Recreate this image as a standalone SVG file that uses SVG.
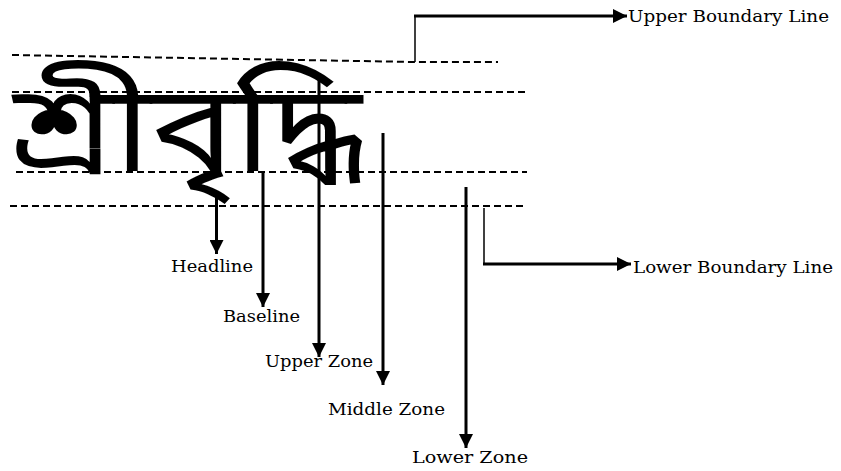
<svg xmlns="http://www.w3.org/2000/svg" width="841" height="471" viewBox="0 0 841 471">
<defs>
<marker id="ah" markerUnits="userSpaceOnUse" markerWidth="14" markerHeight="14" viewBox="0 0 12 12" refX="12" refY="6" orient="auto">
<path d="M0,0 L12,6 L0,12 Z" fill="#000"/>
</marker>
</defs>
<style>
.dash{fill:none;stroke:#000;stroke-width:2;stroke-dasharray:7 4}
.arr{fill:none;stroke:#000;stroke-width:3;marker-end:url(#ah)}
.thin{fill:none;stroke:#000;stroke-width:1.5}
.lbl{font-family:"DejaVu Serif","Liberation Serif",serif;font-size:16px;fill:#000}
.bn{font-family:"Noto Sans Bengali","Lohit Bengali","Noto Sans","DejaVu Sans",sans-serif;font-size:122px;font-weight:normal;fill:#000}
</style>
<rect width="841" height="471" fill="#fff"/>
<g id="word">
<text class="bn" x="12" y="171" textLength="350" lengthAdjust="spacingAndGlyphs">শ্রীবৃদ্ধি</text>
</g>
<g id="guides">
<polyline class="dash" points="12,55 415,62 498,62"/>
<line class="dash" x1="12" y1="92" x2="527" y2="92"/>
<line class="dash" x1="16" y1="172" x2="527" y2="172"/>
<line class="dash" x1="10" y1="206" x2="527" y2="206"/>
</g>
<g id="connectors">
<polyline class="thin" points="415,62 415,16"/>
<line class="arr" x1="414" y1="16" x2="627" y2="16"/>
<polyline class="thin" points="484,208 484,264"/>
<line class="arr" x1="483" y1="264" x2="631" y2="264"/>
<line class="arr" x1="216.5" y1="195" x2="216.5" y2="254"/>
<line class="arr" x1="263" y1="173" x2="263" y2="307"/>
<line class="arr" x1="319" y1="74" x2="319" y2="357"/>
<line class="arr" x1="383" y1="133" x2="383" y2="385"/>
<line class="arr" x1="466" y1="187" x2="466" y2="448"/>
</g>
<g id="upper-boundary"><text class="lbl" x="628" y="22" textLength="201" lengthAdjust="spacingAndGlyphs">Upper Boundary Line</text></g>
<g id="lower-boundary"><text class="lbl" x="633" y="273" textLength="200" lengthAdjust="spacingAndGlyphs">Lower Boundary Line</text></g>
<g id="headline"><text class="lbl" x="171" y="272" textLength="82" lengthAdjust="spacingAndGlyphs">Headline</text></g>
<g id="baseline"><text class="lbl" x="223" y="322" textLength="77" lengthAdjust="spacingAndGlyphs">Baseline</text></g>
<g id="upper-zone"><text class="lbl" x="265" y="367" textLength="108" lengthAdjust="spacingAndGlyphs">Upper Zone</text></g>
<g id="middle-zone"><text class="lbl" x="328" y="415" textLength="117" lengthAdjust="spacingAndGlyphs">Middle Zone</text></g>
<g id="lower-zone"><text class="lbl" x="412" y="463" textLength="116" lengthAdjust="spacingAndGlyphs">Lower Zone</text></g>
</svg>
